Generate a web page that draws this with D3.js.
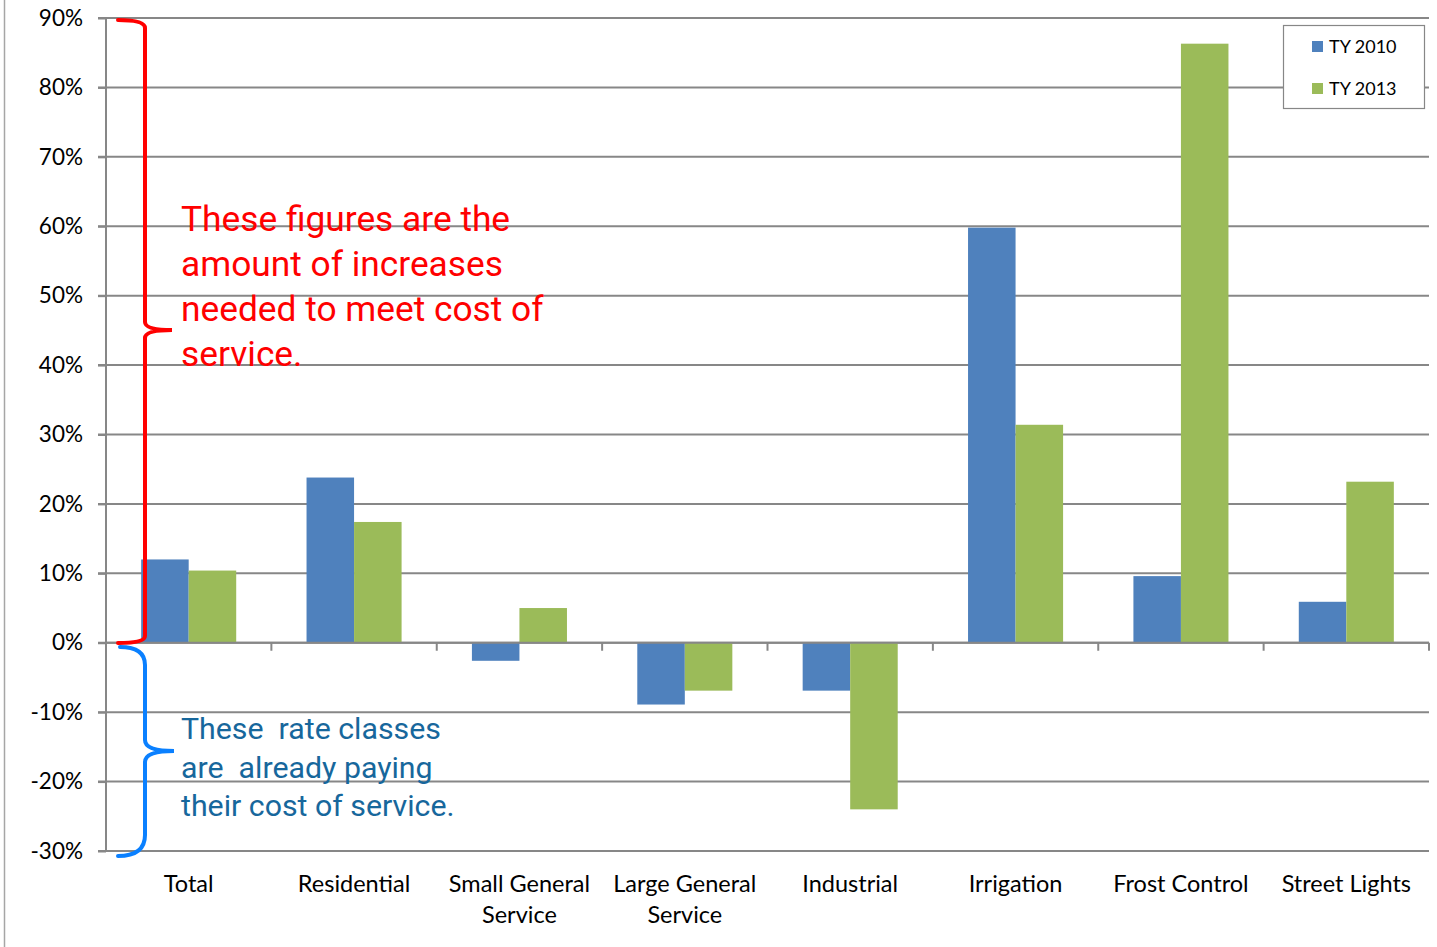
<!DOCTYPE html>
<html><head><meta charset="utf-8">
<script src="https://cdn.jsdelivr.net/npm/d3@7"></script>
<style>body{margin:0;background:#fff;} svg{display:block;}</style>
</head><body>
<svg id="c" width="1437" height="947"></svg>
<script>
const categories = ["Total","Residential","Small General Service","Large General Service","Industrial","Irrigation","Frost Control","Street Lights"];
const categoryLines = [["Total"],["Residential"],["Small General","Service"],["Large General","Service"],["Industrial"],["Irrigation"],["Frost Control"],["Street Lights"]];
const seriesNames = ["TY 2010","TY 2013"];
const ty2010 = [12.0, 23.8, -2.6, -8.9, -6.9, 59.8, 9.6, 5.9];
const ty2013 = [10.4, 17.4, 5.0, -6.9, -24.0, 31.4, 86.3, 23.2];
const yTicks = [-30,-20,-10,0,10,20,30,40,50,60,70,80,90];
const colors = ["#4F81BD","#9BBB59"];
const redNote = ["These figures are the","amount of increases","needed to meet cost of","service."];
const blueNote = ["These  rate classes","are  already paying","their cost of service."];

const svg = d3.select("#c");
const L = 106, R = 1429, T = 18, B = 851;
const y = d3.scaleLinear().domain([-30,90]).range([B,T]);
const x0 = d3.scaleBand().domain(categories).range([L,R]).padding(0);
const x1 = d3.scaleBand().domain(seriesNames).range([0,x0.bandwidth()]).paddingInner(0).paddingOuter(0.74);
const font = "Lato, 'Open Sans', sans-serif";

// left frame line
svg.append("line").attr("x1",4.5).attr("x2",4.5).attr("y1",0).attr("y2",947).attr("stroke","#a6a6a6").attr("stroke-width",1.5);

// gridlines
svg.append("g").selectAll("line").data(yTicks).join("line")
  .attr("x1",L-8).attr("x2",R).attr("y1",d=>y(d)).attr("y2",d=>y(d))
  .attr("stroke","#878787").attr("stroke-width",2);

// y axis
const yAxis = d3.axisLeft(y).tickValues(yTicks).tickFormat(d=>d+"%").tickSize(8).tickPadding(15);
const ga = svg.append("g").attr("transform",`translate(${L},0)`).call(yAxis);
ga.select(".domain").attr("stroke","#878787").attr("stroke-width",2).attr("d",`M0,${T}V${B}`);
ga.selectAll(".tick line").attr("stroke","#878787").attr("stroke-width",2);
ga.selectAll(".tick text").attr("font-family",font).attr("font-size",22.5).attr("fill","#000");

// bars
const data = categories.map((c,i)=>({c, vals:[ty2010[i],ty2013[i]]}));
const groups = svg.append("g").selectAll("g").data(data).join("g")
  .attr("transform",d=>`translate(${x0(d.c)},0)`);
groups.selectAll("rect").data(d=>d.vals.map((v,j)=>({v,s:seriesNames[j],j}))).join("rect")
  .attr("x",d=>x1(d.s)).attr("width",x1.bandwidth())
  .attr("y",d=>y(Math.max(0,d.v))).attr("height",d=>Math.abs(y(d.v)-y(0)))
  .attr("fill",d=>colors[d.j]);

// category axis line at 0 with ticks
svg.append("line").attr("x1",L).attr("x2",R).attr("y1",y(0)).attr("y2",y(0)).attr("stroke","#878787").attr("stroke-width",2);
svg.append("g").selectAll("line").data(categories.slice(1)).join("line")
  .attr("x1",d=>x0(d)).attr("x2",d=>x0(d)).attr("y1",y(0)).attr("y2",y(0)+8)
  .attr("stroke","#878787").attr("stroke-width",2);
svg.append("line").attr("x1",R).attr("x2",R).attr("y1",y(0)).attr("y2",y(0)+8).attr("stroke","#878787").attr("stroke-width",2);

// category labels
const cl = svg.append("g").selectAll("text").data(categories).join("text")
  .attr("x",d=>x0(d)+x0.bandwidth()/2).attr("y",892)
  .attr("text-anchor","middle").attr("font-family",font).attr("font-size",23.5).attr("fill","#000");
cl.each(function(d,i){
  const t=d3.select(this);
  categoryLines[i].forEach((ln,k)=>t.append("tspan").attr("x",x0(d)+x0.bandwidth()/2).attr("dy",k?31:0).text(ln));
});

// legend
const lg = svg.append("g");
lg.append("rect").attr("x",1283.5).attr("y",25.5).attr("width",141).attr("height",83).attr("fill","#fff").attr("stroke","#878787").attr("stroke-width",1.2);
seriesNames.forEach((s,i)=>{
  lg.append("rect").attr("x",1312).attr("y",41+i*42).attr("width",11).attr("height",11).attr("fill",colors[i]);
  lg.append("text").attr("x",1329).attr("y",53+i*42).attr("font-family",font).attr("font-size",18).attr("fill","#000").text(s);
});

// red bracket
svg.append("path").attr("fill","none").attr("stroke","#ff0000").attr("stroke-width",4).attr("stroke-linecap","round")
  .attr("d","M118,20 Q145,20 145,28 L145,322 Q145,330 172,330 Q145,330 145,338 L145,636 Q145,643 118,643");
// blue bracket
svg.append("path").attr("fill","none").attr("stroke","#0a80ff").attr("stroke-width",4).attr("stroke-linecap","round")
  .attr("d","M120,647 Q145,647 145,665 L145,740 Q145,751 174,751 Q145,751 145,762 L145,835 Q145,856 118,856");

// notes
const nf = "Roboto, 'Liberation Sans', sans-serif";
svg.append("g").selectAll("text").data(redNote).join("text")
  .attr("x",181).attr("y",(d,i)=>231+i*45).attr("font-family",nf).attr("font-size",35.3).attr("fill","#ff0000").text(d=>d);
svg.append("g").selectAll("text").data(blueNote).join("text")
  .attr("x",181).attr("y",(d,i)=>739+i*38.5).attr("font-family",nf).attr("font-size",30.3).attr("fill","#17679c")
  .attr("xml:space","preserve").style("white-space","pre").text(d=>d);
</script>
</body></html>
